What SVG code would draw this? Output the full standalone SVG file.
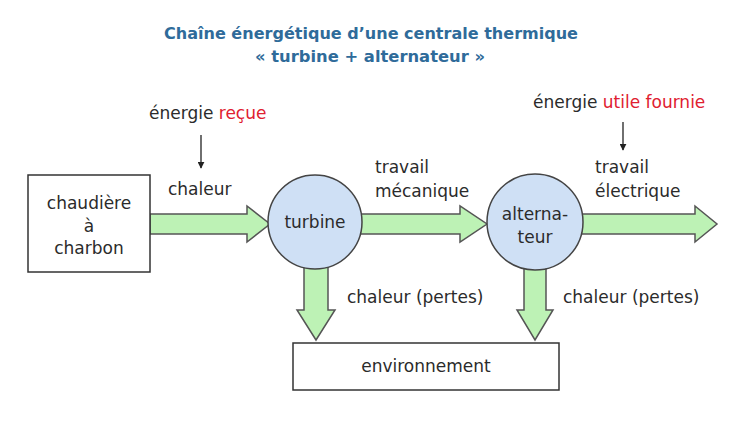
<svg xmlns="http://www.w3.org/2000/svg" width="742" height="424" viewBox="0 0 742 424">
<defs>
<style>
text{font-family:"DejaVu Sans","Liberation Sans",sans-serif;font-size:17px;fill:#2b2b2b;}
.title{font-size:16.5px;font-weight:bold;fill:#2f6b9a;}
.red{fill:#e02030;}
.box{fill:#fff;stroke:#333;stroke-width:1.5;}
.circ{fill:#cfe0f5;stroke:#444;stroke-width:1.5;}
.big{fill:#bdf2b5;stroke:#555;stroke-width:1.5;stroke-linejoin:miter;}
.thin{stroke:#222;stroke-width:1.3;fill:none;marker-end:url(#ah);}
</style>
<marker id="ah" viewBox="0 0 10 10" refX="9" refY="5" markerWidth="7" markerHeight="7" markerUnits="userSpaceOnUse" orient="auto">
<path d="M0,0 L10,5 L0,10 z" fill="#222"/>
</marker>
</defs>
<rect width="742" height="424" fill="#fff"/>
<g id="title">
<text class="title" x="371" y="39" text-anchor="middle" textLength="414" lengthAdjust="spacingAndGlyphs">Chaîne énergétique d’une centrale thermique</text>
<text class="title" x="370" y="62" text-anchor="middle" textLength="230" lengthAdjust="spacingAndGlyphs">« turbine + alternateur »</text>
</g>
<g id="connectors">
<polygon class="big" points="150,214 247,214 247,206 270,224 247,242 247,234 150,234"/>
<polygon class="big" points="355,214 460,214 460,206 487,224 460,242 460,234 355,234"/>
<polygon class="big" points="575,214 695,214 695,206 717,224 695,242 695,234 575,234"/>
<polygon class="big" points="304,255 328,255 328,310 335,310 316,340 297,310 304,310"/>
<polygon class="big" points="524,255 546,255 546,310 553,310 535,340 517,310 524,310"/>
<line class="thin" x1="201" y1="135" x2="201" y2="168"/>
<line class="thin" x1="623" y1="122" x2="623" y2="150"/>
</g>
<g id="chaudiere">
<rect class="box" x="28" y="175" width="122" height="97"/>
<text x="89" y="209" text-anchor="middle">chaudière</text>
<text x="89" y="232" text-anchor="middle">à</text>
<text x="89" y="254" text-anchor="middle">charbon</text>
</g>
<g id="turbine">
<circle class="circ" cx="315" cy="222" r="47"/>
<text x="315" y="228" text-anchor="middle">turbine</text>
</g>
<g id="alternateur">
<circle class="circ" cx="535" cy="222" r="48"/>
<text x="535" y="220" text-anchor="middle">alterna-</text>
<text x="535" y="243" text-anchor="middle">teur</text>
</g>
<g id="environnement">
<rect class="box" x="293" y="343" width="266" height="47"/>
<text x="426" y="372" text-anchor="middle">environnement</text>
</g>
<g id="labels">
<text x="149" y="119">énergie <tspan class="red">reçue</tspan></text>
<text x="168" y="195">chaleur</text>
<text x="533" y="108">énergie <tspan class="red">utile fournie</tspan></text>
<text x="375" y="173">travail</text>
<text x="375" y="197">mécanique</text>
<text x="595" y="173">travail</text>
<text x="595" y="197">électrique</text>
<text x="347" y="303">chaleur (pertes)</text>
<text x="563" y="303">chaleur (pertes)</text>
</g>
</svg>
